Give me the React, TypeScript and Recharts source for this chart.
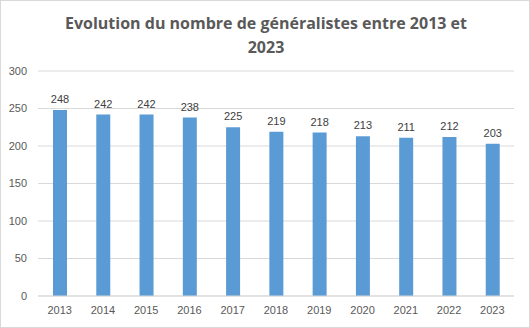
import React from "react";
import { Bar, BarChart, CartesianGrid, LabelList, XAxis, YAxis } from "recharts";

const years = ["2013", "2014", "2015", "2016", "2017", "2018", "2019", "2020", "2021", "2022", "2023"];
const generalistes = [248, 242, 242, 238, 225, 219, 218, 213, 211, 212, 203];
const yTicks = [0, 50, 100, 150, 200, 250, 300];

const data = years.map((year, i) => ({ year, value: generalistes[i] }));

const FONT = "'Liberation Sans', Arial, sans-serif";

export default function App() {
    return (
        <div
            style={{
                position: "absolute",
                left: 0,
                top: 0,
                width: 530,
                height: 328,
                boxSizing: "border-box",
                border: "1px solid #d9d9d9",
                background: "#fff",
                fontFamily: FONT,
            }}
        >
            <div
                style={{
                    position: "absolute",
                    left: 0,
                    top: 10,
                    width: 530,
                    textAlign: "center",
                    fontFamily: "'Open Sans', sans-serif",
                    fontWeight: 700,
                    fontSize: 16,
                    lineHeight: "24px",
                    color: "#595959",
                }}
            >
                Evolution du nombre de généralistes entre 2013 et
                <br />
                2023
            </div>
            <div style={{ position: "absolute", left: -1, top: -1 }}>
                <BarChart
                    width={530}
                    height={328}
                    data={data}
                    margin={{ top: 71, right: 16, left: 0, bottom: 0 }}
                >
                    <CartesianGrid vertical={false} stroke="#d9d9d9" />
                    <XAxis
                        dataKey="year"
                        height={32}
                        axisLine={{ stroke: "#d9d9d9" }}
                        tickLine={false}
                        tick={{ fill: "#595959", fontSize: 11, fontFamily: FONT }}
                        tickMargin={4}
                    />
                    <YAxis
                        width={38}
                        domain={[0, 300]}
                        ticks={yTicks}
                        axisLine={false}
                        tickLine={false}
                        tickMargin={5}
                        tick={{ fill: "#595959", fontSize: 11, fontFamily: FONT }}
                    />
                    <Bar dataKey="value" fill="#5b9bd5" barSize={14} isAnimationActive={false}>
                        <LabelList
                            dataKey="value"
                            position="top"
                            offset={7}
                            style={{ fill: "#404040", fontSize: 11, fontFamily: FONT }}
                        />
                    </Bar>
                </BarChart>
            </div>
        </div>
    );
}
